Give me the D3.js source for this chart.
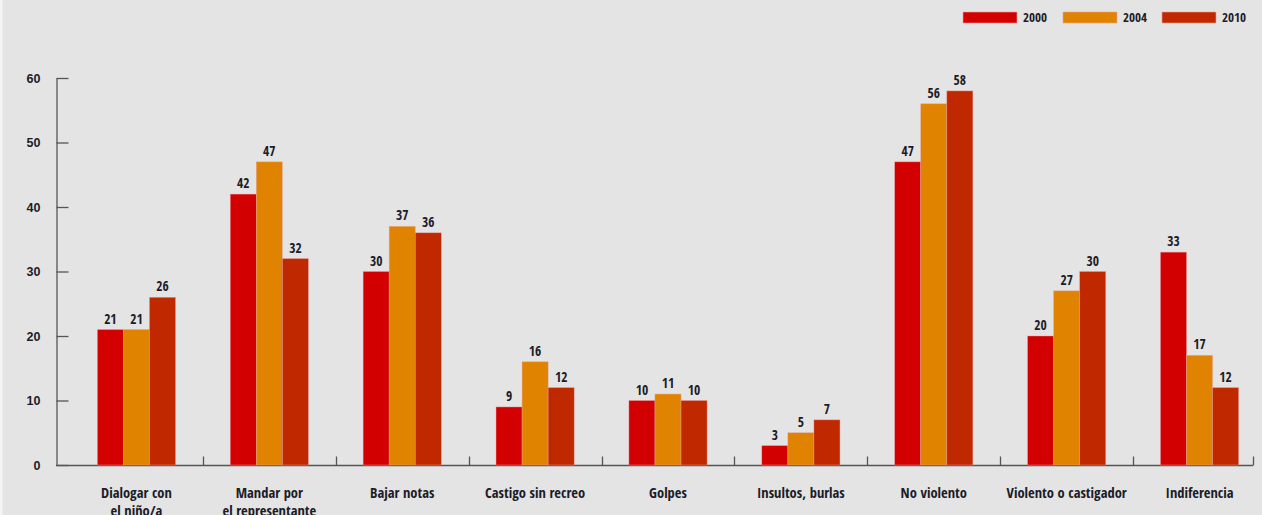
<!DOCTYPE html>
<html><head><meta charset="utf-8">
<script src="https://cdn.jsdelivr.net/npm/d3@7"></script>
<style>
html,body{margin:0;padding:0;background:#e4e4e4;}
svg{display:block;}
text{font-family:"Liberation Sans Narrow","Open Sans Condensed","Roboto Condensed","DejaVu Sans Condensed",sans-serif;fill:#1c1c28;}
</style></head>
<body>
<svg id="c" width="1262" height="515"></svg>
<script>
const categories = [["Dialogar con","el niño/a"],["Mandar por","el representante"],["Bajar notas"],["Castigo sin recreo"],["Golpes"],["Insultos, burlas"],["No violento"],["Violento o castigador"],["Indiferencia"]];
const seriesNames = ["2000","2004","2010"];
const v2000 = [21,42,30,9,10,3,47,20,33];
const v2004 = [21,47,37,16,11,5,56,27,17];
const v2010 = [26,32,36,12,10,7,58,30,12];
const yTicks = [0,10,20,30,40,50,60];
const colors = ["#d20000","#e08300","#c02900"];

const series = [v2000,v2004,v2010];
const svg = d3.select("#c");
svg.append("rect").attr("x",0).attr("y",0).attr("width",1262).attr("height",515).attr("fill","#e4e4e4");
svg.append("rect").attr("x",0).attr("y",0).attr("width",2.5).attr("height",515).attr("fill","#f4f4f4");

const idx = categories.map((d,i)=>i);
const x = d3.scaleBand().domain(idx).range([70,1266]).paddingInner(0).paddingOuter(0);
const xs = d3.scaleBand().domain(seriesNames).range([0,x.bandwidth()]).paddingInner(0).paddingOuter(1.05);
const y = d3.scaleLinear().domain([0,60]).range([465,78]);

// y axis
const ya = svg.append("g").attr("transform","translate(56.5,0)")
  .call(d3.axisLeft(y).tickValues(yTicks).tickSize(-12).tickSizeOuter(0).tickPadding(16));
ya.select(".domain").attr("stroke","#555").attr("stroke-width",1.3);
ya.selectAll(".tick line").attr("stroke","#555").attr("stroke-width",1.3);
ya.selectAll(".tick text").attr("font-size",12.5).attr("font-weight","bold").style("font-family","'Liberation Sans Narrow',sans-serif").attr("fill","#1c1c28");

// x axis baseline and boundary ticks
const y0 = y(0)+0.5;
const xEnd = 1253;
svg.append("line").attr("x1",56).attr("x2",xEnd).attr("y1",y0).attr("y2",y0).attr("stroke","#555").attr("stroke-width",1.3);
const bounds = idx.slice(1).map(i=>x(i)).concat([xEnd]);
svg.selectAll(".xt").data(bounds).join("line").attr("class","xt")
  .attr("x1",d=>Math.round(d)+0.5).attr("x2",d=>Math.round(d)+0.5).attr("y1",y0).attr("y2",y0-9)
  .attr("stroke","#555").attr("stroke-width",1.3);

// bars
const groups = svg.selectAll(".grp").data(idx).join("g").attr("class","grp")
  .attr("transform",i=>`translate(${x(i)},0)`);
seriesNames.forEach((s,k)=>{
  groups.append("rect")
    .attr("x",xs(s)).attr("width",xs.bandwidth())
    .attr("y",i=>y(series[k][i])).attr("height",i=>y(0)-y(series[k][i]))
    .attr("fill",colors[k]).attr("stroke","#e9a0a0").attr("stroke-width",0.6).attr("stroke-opacity",0.7);
  groups.append("text")
    .attr("x",xs(s)+xs.bandwidth()/2).attr("y",i=>y(series[k][i])-6)
    .attr("text-anchor","middle").attr("font-size",13.5).attr("font-weight","bold")
    .text(i=>series[k][i]);
});

// category labels
const cl = svg.selectAll(".cat").data(idx).join("text").attr("class","cat")
  .attr("text-anchor","middle").attr("font-size",14.5).attr("y",498);
cl.each(function(i){
  const t = d3.select(this);
  categories[i].forEach((line,j)=>{
    t.append("tspan").attr("x",x(i)+x.bandwidth()/2).attr("dy",j===0?0:17.5).text(line);
  });
});

// legend
const lg = svg.append("g");
const lx = [963,1063,1162];
seriesNames.forEach((s,k)=>{
  lg.append("rect").attr("x",lx[k]).attr("y",12).attr("width",54).attr("height",11).attr("fill",colors[k]).attr("stroke","#e9a0a0").attr("stroke-width",0.6);
  lg.append("text").attr("x",lx[k]+60).attr("y",22).attr("font-size",13).attr("font-weight","bold").text(s);
});
</script>
</body></html>
